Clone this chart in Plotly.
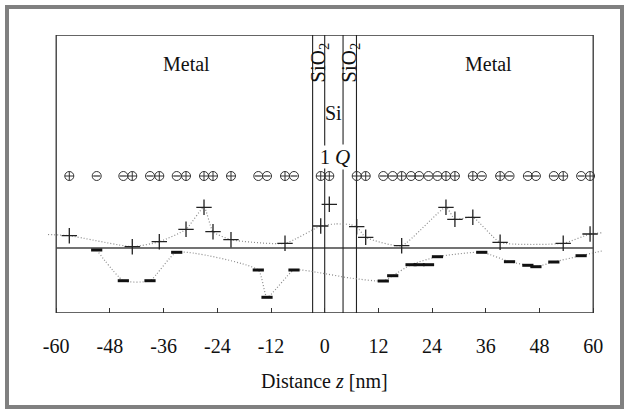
import plotly.graph_objects as go

# ---- data (arbitrary units for charge level; z in nm) ----
charge_z = [-57.07, -50.95, -45.0, -43.0, -39.04, -36.96, -33.07, -30.99, -26.97, -24.96,
            -20.94, -14.84, -12.89, -8.87, -6.86, -0.89, 1.03, 7.15, 9.16, 13.09,
            15.2, 17.2, 19.3, 21.1, 23.2, 25.2, 27.1, 29.1, 33.1, 35.1,
            39.2, 41.3, 45.4, 47.2, 51.2, 53.3, 57.3, 59.3]
charge_sign = ["+", "-", "-", "+", "-", "+", "-", "+", "+", "+",
               "+", "-", "-", "+", "-", "+", "+", "+", "+", "-",
               "-", "+", "-", "-", "-", "-", "+", "+", "+", "-",
               "+", "-", "-", "-", "-", "+", "-", "+"]
charge_v = [1.23, -0.2, -3.27, 0.13, -3.27, 0.63, -0.43, 1.87, 4.07, 1.63,
            0.83, -2.2, -4.93, 0.47, -2.2, 2.2, 4.37, 2.13, 1.07, -3.3,
            -2.77, 0.23, -1.67, -1.67, -1.67, -0.87, 4.07, 2.87, 3.07, -0.43,
            0.57, -1.37, -1.73, -1.87, -1.4, 0.47, -0.77, 1.4]

pos_curve_z = [-61.83, -57.07, -43.0, -36.96, -30.99, -26.97, -24.96, -20.94, -8.87, -0.89,
               2.3, 5.65, 7.15, 9.16, 17.2, 27.1, 29.1, 33.1, 39.2, 53.3, 59.3, 62.2]
pos_curve_v = [1.35, 1.23, 0.13, 0.63, 1.87, 4.07, 1.63, 0.83, 0.47, 2.2,
               2.4, 2.35, 2.13, 1.07, 0.23, 4.07, 2.87, 3.07, 0.57, 0.47, 1.4, 1.53]

neg_curve_z = [-50.95, -45.0, -39.04, -33.07, -14.84, -12.89, -6.86, -1.5, 5.65, 13.09,
               15.2, 19.3, 25.2, 35.1, 41.3, 45.4, 47.2, 51.2, 57.3, 62.2]
neg_curve_v = [-0.2, -3.27, -3.27, -0.43, -2.2, -4.93, -2.2, -2.45, -3.0, -3.3,
               -2.77, -1.67, -0.87, -0.43, -1.37, -1.73, -1.87, -1.4, -0.77, -0.27]

layer_bounds = [-2.7, 0.0, 4.1, 7.1]
x_ticks = [-60, -48, -36, -24, -12, 0, 12, 24, 36, 48, 60]

X_MIN, X_MAX = -60, 60
Y_MIN, Y_MAX = -6.5, 21.3
ROW_V = 7.2

SERIF = "Liberation Serif, Times New Roman, serif"
TXT = "#111"

fig = go.Figure()

curve_line = dict(color="#8c8c8c", width=1.2, dash="1px,2px", shape="spline", smoothing=0.5)
fig.add_trace(go.Scatter(x=pos_curve_z, y=pos_curve_v, mode="lines", line=curve_line,
                         hoverinfo="skip", showlegend=False))
fig.add_trace(go.Scatter(x=neg_curve_z, y=neg_curve_v, mode="lines", line=curve_line,
                         hoverinfo="skip", showlegend=False))

pz = [z for z, s in zip(charge_z, charge_sign) if s == "+"]
pv = [v for v, s in zip(charge_v, charge_sign) if s == "+"]
nz = [z for z, s in zip(charge_z, charge_sign) if s == "-"]
nv = [v for v, s in zip(charge_v, charge_sign) if s == "-"]

fig.add_trace(go.Scatter(x=pz, y=pv, mode="markers",
                         marker=dict(symbol="cross-thin", size=11, line=dict(color="#222", width=1.3)),
                         cliponaxis=False, showlegend=False))
fig.add_trace(go.Scatter(x=nz, y=nv, mode="markers",
                         marker=dict(symbol="line-ew", size=8, line=dict(color="#111", width=3)),
                         cliponaxis=False, showlegend=False))

# circled charge symbols row (circle with + or -)
SYM_COL = "#333"
fig.add_trace(go.Scatter(x=pz, y=[ROW_V] * len(pz), mode="markers",
                         marker=dict(symbol="circle-cross-open", size=9, color=SYM_COL,
                                     line=dict(color=SYM_COL, width=1)),
                         showlegend=False, hoverinfo="skip"))
fig.add_trace(go.Scatter(x=nz, y=[ROW_V] * len(nz), mode="markers",
                         marker=dict(symbol="circle-open", size=9, color=SYM_COL,
                                     line=dict(color=SYM_COL, width=1)),
                         showlegend=False, hoverinfo="skip"))
fig.add_trace(go.Scatter(x=nz, y=[ROW_V] * len(nz), mode="markers",
                         marker=dict(symbol="line-ew", size=5, color=SYM_COL,
                                     line=dict(color=SYM_COL, width=1.2)),
                         showlegend=False, hoverinfo="skip"))

shapes = []
shapes.append(dict(type="rect", xref="x", yref="y", x0=X_MIN, x1=X_MAX, y0=Y_MIN, y1=Y_MAX,
                   line=dict(color="#333", width=1.3), layer="below"))
shapes.append(dict(type="line", xref="x", yref="y", x0=X_MIN, x1=X_MAX, y0=0, y1=0,
                   line=dict(color="#444", width=1.3), layer="below"))
for b in layer_bounds:
    shapes.append(dict(type="line", xref="x", yref="y", x0=b, x1=b, y0=Y_MIN, y1=Y_MAX,
                       line=dict(color="#222", width=1.1), layer="below"))
shapes.append(dict(type="rect", xref="paper", yref="paper",
                   x0=(7 - 40) / 569, x1=(622 - 40) / 569,
                   y0=(313 - 407) / 278, y1=(313 - 7) / 278,
                   line=dict(color="#808080", width=4)))

annotations = [
    dict(x=-30.8, y=(248 - 64) / 10, text="Metal", showarrow=False,
         font=dict(family=SERIF, size=20, color=TXT)),
    dict(x=36.6, y=(248 - 64) / 10, text="Metal", showarrow=False,
         font=dict(family=SERIF, size=20, color=TXT)),
    dict(x=-1.35, y=(248 - 63) / 10, text="SiO<sub>2</sub>", textangle=-90, showarrow=False,
         font=dict(family=SERIF, size=21, color=TXT)),
    dict(x=5.6, y=(248 - 63) / 10, text="SiO<sub>2</sub>", textangle=-90, showarrow=False,
         font=dict(family=SERIF, size=21, color=TXT)),
    dict(x=2.05, y=(248 - 113) / 10, text="Si", showarrow=False,
         font=dict(family=SERIF, size=20, color=TXT)),
    dict(x=0.0, y=(248 - 157) / 10, text="1", showarrow=False, bgcolor="white",
         borderpad=0, font=dict(family=SERIF, size=20, color=TXT)),
    dict(x=4.0, y=(248 - 157) / 10, text="<i>Q</i>", showarrow=False, bgcolor="white",
         borderpad=0, font=dict(family=SERIF, size=21, color=TXT)),
    dict(x=0, xref="x", y=(313 - 381) / 278, yref="paper", text="Distance <i>z</i> [nm]",
         showarrow=False, yanchor="middle",
         font=dict(family=SERIF, size=20, color=TXT)),
]

L, R, T, B = 40, 20, 35, 101
x_lo = (40 - 324.7) / 4.475
x_hi = (609 - 324.7) / 4.475

fig.update_layout(
    width=629, height=414,
    margin=dict(l=L, r=R, t=T, b=B, pad=0),
    paper_bgcolor="white", plot_bgcolor="white",
    shapes=shapes, annotations=annotations,
    xaxis=dict(range=[x_lo, x_hi], tickvals=x_ticks, ticktext=[str(t) for t in x_ticks],
               ticks="inside", ticklen=5, tickwidth=1, tickcolor="#333",
               showgrid=False, zeroline=False, showline=False,
               ticklabelstandoff=19,
               tickfont=dict(family=SERIF, size=20, color=TXT)),
    yaxis=dict(range=[Y_MIN, Y_MAX], showticklabels=False, ticks="", showgrid=False,
               zeroline=False, showline=False),
    showlegend=False,
)

fig.write_html("out.html")
